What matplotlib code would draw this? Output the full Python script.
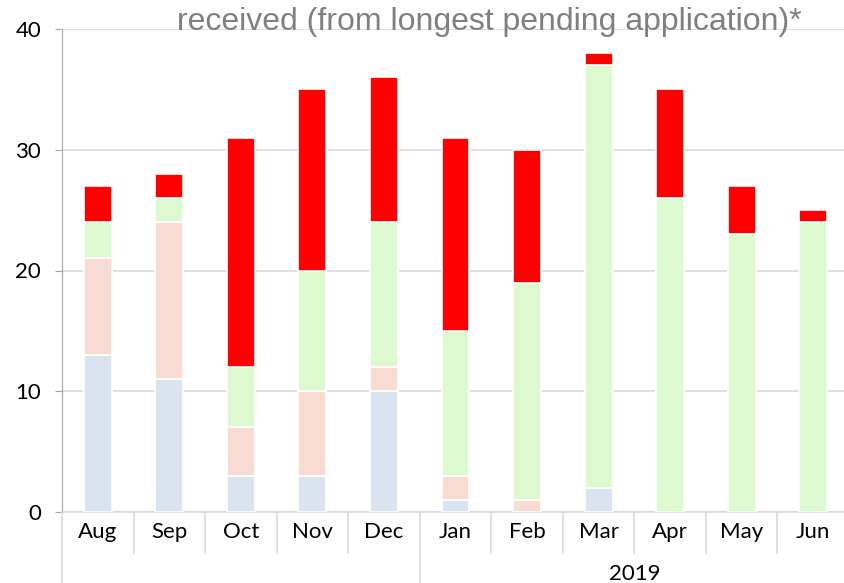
import numpy as np
import matplotlib.pyplot as plt

months = ["Aug", "Sep", "Oct", "Nov", "Dec", "Jan", "Feb", "Mar", "Apr", "May", "Jun"]
blue = [13, 11, 3, 3, 10, 1, 0, 2, 0, 0, 0]
pink = [8, 13, 4, 7, 2, 2, 1, 0, 0, 0, 0]
green = [3, 2, 5, 10, 12, 12, 18, 35, 26, 23, 24]
red = [3, 2, 19, 15, 12, 16, 11, 1, 9, 4, 1]
year_label = "2019"
year_start = 5  # index of Jan

colors = ["#DAE3F0", "#F8DCD3", "#DDF9D0", "#FF0000"]

fig = plt.figure(figsize=(8.45, 5.83), dpi=100)
ax = fig.add_axes([62/845, 71/583, 787/845, 483/583])

x = np.arange(len(months))
bottom = np.zeros(len(months))
for vals, c in zip([blue, pink, green, red], colors):
    ax.bar(x, vals, width=0.39, bottom=bottom, color=c, edgecolor="white", linewidth=1.2, zorder=3)
    bottom += np.array(vals)

ax.set_xlim(-0.5, len(months) - 0.5)
ax.set_ylim(0, 40)
ax.set_yticks([0, 10, 20, 30, 40])
ax.yaxis.grid(True, color="#D9D9D9", linewidth=1.2, zorder=0)
for s in ["top", "right"]:
    ax.spines[s].set_visible(False)
ax.spines["left"].set_color("#A6A6A6")
ax.spines["bottom"].set_color("#D9D9D9")
ax.spines["bottom"].set_linewidth(1.2)
ax.tick_params(axis="y", colors="#A6A6A6", length=5, labelcolor="black", labelsize=16, pad=10)
ax.tick_params(axis="x", length=0, labelsize=16, pad=7)
ax.set_xticks(x)
ax.set_xticklabels(months)
for lab in ax.get_xticklabels() + ax.get_yticklabels():
    lab.set_fontfamily("Lato")

# category separators below axis
tr = ax.get_xaxis_transform()
for b in np.arange(-0.5, len(months), 1.0):
    depth = -0.3 if b in (-0.5, year_start - 0.5) else -0.085
    ax.plot([b, b], [0, depth], transform=tr, color="#D9D9D9", lw=1.2, clip_on=False)
ax.text((year_start - 0.5 + len(months) - 0.5) / 2, -0.108, year_label, transform=tr,
        ha="center", va="top", fontsize=16, family="Lato")

fig.text(489/845, 1 - 22/583, "received (from longest pending application)*",
         ha="center", va="center", fontsize=23, color="#7F7F7F", family="Liberation Sans")

fig.savefig("out.png", dpi=100)
